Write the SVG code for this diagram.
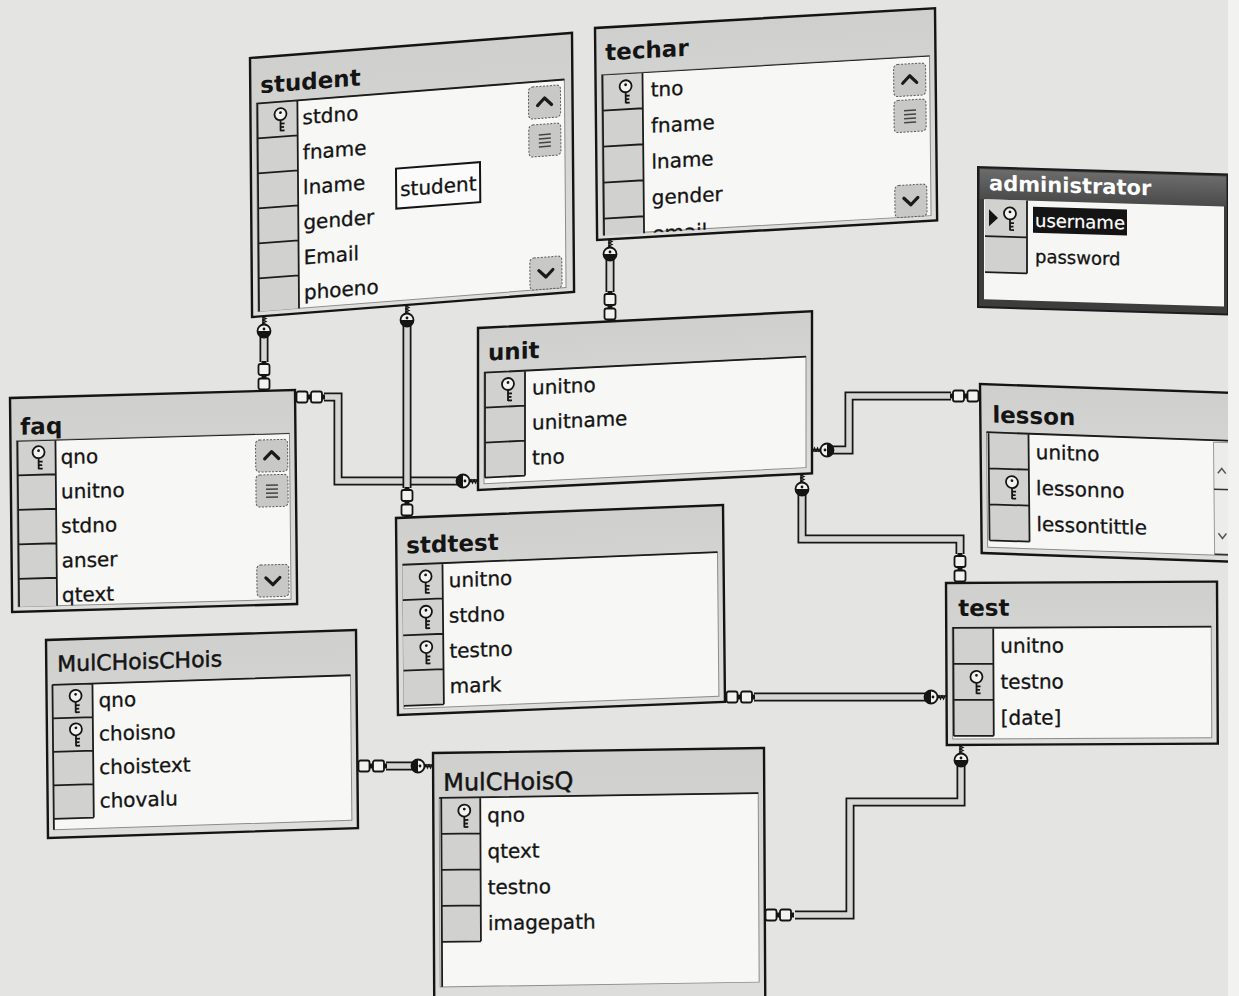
<svg xmlns="http://www.w3.org/2000/svg" width="1239" height="996" viewBox="0 0 1239 996">
<defs>
<style>
.frame{fill:url(#hdr);stroke:#141414;stroke-width:2.4}
.grid{fill:#f7f7f5;stroke:#8c8c8a;stroke-width:1}
.kc{fill:#d1d1cf}
.ksep{fill:none;stroke:#1c1c1c;stroke-width:1.8}
.title{font-family:"DejaVu Sans",Verdana,sans-serif;font-weight:bold;font-size:23px;fill:#141414}
.mtitle{font-family:"DejaVu Sans",Verdana,sans-serif;font-size:22px;fill:#141414;stroke:#141414;stroke-width:0.5}
.atitle{font-family:"DejaVu Sans",Verdana,sans-serif;font-weight:bold;font-size:21px;fill:#ffffff}
.row{font-family:"DejaVu Sans",Verdana,sans-serif;font-size:20px;fill:#141414;stroke:#141414;stroke-width:0.3}
.arow{font-family:"DejaVu Sans",Verdana,sans-serif;font-size:18px;fill:#141414;stroke:#141414;stroke-width:0.3}
.pipeo{fill:none;stroke:#161616;stroke-width:9}
.pipei{fill:none;stroke:#d6d6d4;stroke-width:5.5}
.sb{fill:#c8c8c6;stroke:#5a5a5a;stroke-width:1;stroke-dasharray:2 1.5}
.arr{fill:none;stroke:#1a1a1a;stroke-width:3.2;stroke-linecap:round;stroke-linejoin:round}
.link{fill:#f2f2f0;stroke:#141414;stroke-width:1.8}
.ink{fill:#141414}
</style>
<linearGradient id="hdr" x1="0" y1="0" x2="0" y2="1"><stop offset="0" stop-color="#cfcfcd"/><stop offset="1" stop-color="#dededc"/></linearGradient>
<linearGradient id="dk" x1="0" y1="0" x2="0" y2="1"><stop offset="0" stop-color="#6c6c6c"/><stop offset="1" stop-color="#4a4a4a"/></linearGradient>
<g id="pk">
<circle cx="0" cy="-5" r="6" fill="#f2f2f2" stroke="#141414" stroke-width="1.8"/>
<circle cx="0" cy="-6.5" r="1.4" fill="#141414"/>
<path d="M0,1V12M0,4.5h4M0,8h3.5M0,11.5h4" fill="none" stroke="#141414" stroke-width="1.8"/>
</g>
<g id="ck">
<path d="M0,-1H-9" fill="none" stroke="#141414" stroke-width="1.6"/>
<path d="M-1,-1l-1.5,3l-1.5,-3l-1.5,3l-1.5,-3l-1.5,3" fill="none" stroke="#141414" stroke-width="1.3"/>
<circle cx="-15" cy="0" r="6.5" fill="#f2f2f0" stroke="#141414" stroke-width="1.8"/>
<path d="M-15,-6.5A6.5,6.5 0 0 0 -15,6.5Z" class="ink"/>
<circle cx="-13" cy="0" r="1.4" class="ink"/>
</g>
<g id="cc">
<rect x="-2" y="-2.5" width="2" height="5" class="ink"/>
<rect class="link" x="-12.5" y="-5.5" width="11" height="11" rx="2"/>
<rect x="-16" y="-2.5" width="4" height="5" class="ink"/>
<rect class="link" x="-27" y="-5.5" width="11" height="11" rx="2"/>
<rect x="-30" y="-2.5" width="3.5" height="5" class="ink"/>
</g>
<g id="sbUp"><rect class="sb" width="32" height="32" rx="4"/><path class="arr" d="M9,19L16,12L23,19"/></g>
<g id="sbTh"><rect class="sb" width="32" height="32" rx="4"/><path d="M10,10.5H22M10,14.5H22M10,18.5H22M10,22.5H22" stroke="#444" stroke-width="1.5"/></g>
<g id="sbDn"><rect class="sb" width="32" height="32" rx="4"/><path class="arr" d="M9,13L16,20L23,13"/></g>
<clipPath id="clipT"><rect x="0" y="47" width="340" height="161"/></clipPath>
<clipPath id="clipF"><rect x="0" y="43" width="285" height="166"/></clipPath>
<path id="p1" d="M264,336V362"/>
<path id="p2" d="M407,325V488"/>
<path id="p3" d="M324,397H338V481H458"/>
<path id="p4" d="M610,259V292"/>
<path id="p5" d="M832,450H849V396H951"/>
<path id="p6" d="M802,494V539H960V554"/>
<path id="p7" d="M754,697H926"/>
<path id="p8" d="M386,766H413"/>
<path id="p9" d="M961,765V802H850V915H795"/>
</defs>

<rect width="1239" height="996" fill="#e4e4e2"/>

<g id="student" transform="matrix(1,-0.078,0.008,1,250,58)">
<rect class="frame" width="322" height="259"/>
<text class="title" x="10" y="36">student</text>
<rect class="grid" x="6" y="46" width="308" height="208"/>
<rect class="kc" x="7" y="46" width="40" height="208"/>
<path class="ksep" d="M6,46H314M7,81H47M7,116H47M7,151H47M7,186H47M7,221H47M47,46V254M7,46V254"/>
<use href="#pk" x="30" y="63.5"/>
<text class="row" x="52" y="70.5">stdno</text>
<text class="row" x="52" y="105.5">fname</text>
<text class="row" x="52" y="140.5">lname</text>
<text class="row" x="52" y="175.5">gender</text>
<text class="row" x="52" y="210.5">Email</text>
<text class="row" x="52" y="245.5">phoeno</text>
<use href="#sbUp" x="278" y="51"/>
<use href="#sbTh" x="278" y="89"/>
<use href="#sbDn" x="278" y="222"/>
<rect x="145" y="122" width="84" height="40" fill="#fbfbfb" stroke="#141414" stroke-width="2"/>
<text class="row" x="149" y="150">student</text>
</g>

<g id="techar" transform="matrix(1,-0.058,0.01,1,595,28)">
<rect class="frame" width="340" height="212"/>
<text class="title" x="10" y="33">techar</text>
<rect class="grid" x="6" y="47" width="328" height="160"/>
<g clip-path="url(#clipT)">
<rect class="kc" x="7" y="47" width="40" height="165"/>
<path class="ksep" d="M6,47H334M7,83H47M7,119H47M7,155H47M7,191H47M47,47V212M7,47V212"/>
<text class="row" x="55" y="72">tno</text>
<text class="row" x="55" y="108">fname</text>
<text class="row" x="55" y="144">lname</text>
<text class="row" x="55" y="180">gender</text>
<text class="row" x="55" y="216">email</text>
</g>
<use href="#pk" x="30" y="65"/>
<use href="#sbUp" x="298" y="54"/>
<use href="#sbTh" x="298" y="90"/>
<use href="#sbDn" x="298" y="175"/>
</g>

<g id="administrator" transform="matrix(1,0.03,0,1,978,167)">
<rect width="250" height="140" fill="#3d3d3d" stroke="#1c1c1c" stroke-width="2"/>
<rect x="2" y="2" width="246" height="30" fill="url(#dk)"/>
<text class="atitle" x="11" y="23">administrator</text>
<rect x="6" y="32" width="240" height="100" fill="#f6f6f4"/>
<rect class="kc" x="7" y="32" width="42" height="73"/>
<path class="ksep" d="M7,69H49M7,105H49M49,32V105"/>
<polygon points="11,42 20,50.5 11,59" class="ink"/>
<use href="#pk" x="32" y="50.5"/>
<rect x="55" y="38" width="94" height="26" fill="#141414"/>
<text class="arow" x="57" y="58" style="fill:#ffffff;stroke:#ffffff;stroke-width:0.2">username</text>
<text class="arow" x="57" y="94">password</text>
</g>

<g id="unit" transform="matrix(1,-0.05,0,1,478,328)">
<rect class="frame" width="334" height="162"/>
<text class="title" x="10" y="33">unit</text>
<rect class="grid" x="6" y="45" width="322" height="111"/>
<rect class="kc" x="7" y="45" width="40" height="105"/>
<path class="ksep" d="M6,45H328M7,80H47M7,115H47M7,150H47M47,45V150M7,45V150"/>
<use href="#pk" x="30" y="62.5"/>
<text class="row" x="54" y="69.5">unitno</text>
<text class="row" x="54" y="104.5">unitname</text>
<text class="row" x="54" y="139.5">tno</text>
</g>

<g id="lesson" transform="matrix(1,0.035,0.01,1,980,384)">
<rect class="frame" width="252" height="169"/>
<text class="title" x="12" y="38">lesson</text>
<rect class="grid" x="6" y="48" width="246" height="115"/>
<rect class="kc" x="8" y="48" width="40" height="108"/>
<path class="ksep" d="M6,48H252M8,84H48M8,120H48M8,156H48M48,48V156M8,48V156"/>
<use href="#pk" x="31" y="102"/>
<text class="row" x="55" y="73">unitno</text>
<text class="row" x="55" y="109">lessonno</text>
<text class="row" x="55" y="145">lessontittle</text>
<rect x="233" y="50" width="19" height="112" fill="#ececea" stroke="#9a9a98" stroke-width="1"/>
<path d="M237,81L241,76L245,81M237,141L241,146L245,141" fill="none" stroke="#555" stroke-width="1.5"/>
<path d="M233,97H252M233,162H252" stroke="#333" stroke-width="1.5"/>
</g>

<g id="faq" transform="matrix(1,-0.028,0.01,1,10,398)">
<rect class="frame" width="285" height="214"/>
<text class="title" x="10" y="37">faq</text>
<rect class="grid" x="6" y="43" width="273" height="166"/>
<g clip-path="url(#clipF)">
<rect class="kc" x="7" y="43" width="38" height="170"/>
<path class="ksep" d="M6,43H279M7,77.5H45M7,112H45M7,146.5H45M7,181H45M45,43V213M7,43V213"/>
<text class="row" x="50" y="67.5">qno</text>
<text class="row" x="50" y="102">unitno</text>
<text class="row" x="50" y="136.5">stdno</text>
<text class="row" x="50" y="171">anser</text>
<text class="row" x="50" y="205.5">qtext</text>
</g>
<use href="#pk" x="28" y="60"/>
<use href="#sbUp" x="245" y="49"/>
<use href="#sbTh" x="245" y="84"/>
<use href="#sbDn" x="245" y="174"/>
</g>

<g id="stdtest" transform="matrix(1,-0.04,0.01,1,396,518)">
<rect class="frame" width="327" height="197"/>
<text class="title" x="10" y="36">stdtest</text>
<rect class="grid" x="6" y="47" width="315" height="144"/>
<rect class="kc" x="6" y="47" width="40" height="141"/>
<path class="ksep" d="M6,47H321M6,82.3H46M6,117.6H46M6,152.9H46M6,188.2H46M46,47V188.2"/>
<use href="#pk" x="29" y="64.6"/>
<use href="#pk" x="29" y="99.9"/>
<use href="#pk" x="29" y="135.2"/>
<text class="row" x="52" y="71.5">unitno</text>
<text class="row" x="52" y="106.8">stdno</text>
<text class="row" x="52" y="142.1">testno</text>
<text class="row" x="52" y="177.4">mark</text>
</g>

<g id="test" transform="matrix(1,-0.005,0.005,1,946,583)">
<rect class="frame" width="271" height="162"/>
<text class="title" x="12" y="33">test</text>
<rect class="grid" x="6" y="45" width="259" height="111"/>
<rect class="kc" x="7" y="45" width="40" height="108"/>
<path class="ksep" d="M6,45H265M7,81H47M7,117H47M7,153H47M47,45V153M7,45V153"/>
<use href="#pk" x="30" y="99"/>
<text class="row" x="54" y="70">unitno</text>
<text class="row" x="54" y="106">testno</text>
<text class="row" x="54" y="142">[date]</text>
</g>

<g id="MulCHoisCHois" transform="matrix(1,-0.032,0.01,1,46,640)">
<rect class="frame" width="310" height="198"/>
<text class="mtitle" x="11" y="32">MulCHoisCHois</text>
<rect class="grid" x="6" y="45" width="298" height="145"/>
<rect class="kc" x="6" y="45" width="40" height="134"/>
<path class="ksep" d="M6,45H304M6,78.5H46M6,112H46M6,145.5H46M6,179H46M46,45V179M6,45V190"/>
<use href="#pk" x="29" y="61.75"/>
<use href="#pk" x="29" y="95.25"/>
<text class="row" x="52" y="69">qno</text>
<text class="row" x="52" y="102.5">choisno</text>
<text class="row" x="52" y="136">choistext</text>
<text class="row" x="52" y="169.5">chovalu</text>
</g>

<g id="MulCHoisQ" transform="matrix(1,-0.015,0.005,1,433,753)">
<rect class="frame" width="331" height="262"/>
<text class="mtitle" x="10" y="38" style="font-size:24px">MulCHoisQ</text>
<rect class="grid" x="6" y="45" width="319" height="189"/>
<rect class="kc" x="8" y="45" width="39" height="144"/>
<path class="ksep" d="M6,45H325M8,81H47M8,117H47M8,153H47M8,189H47M47,45V189M8,45V234"/>
<use href="#pk" x="31" y="63"/>
<text class="row" x="54" y="70">qno</text>
<text class="row" x="54" y="106">qtext</text>
<text class="row" x="54" y="142">testno</text>
<text class="row" x="54" y="178">imagepath</text>
</g>

<g id="connectors">
<use href="#p1" class="pipeo"/><use href="#p1" class="pipei"/>
<use href="#p3" class="pipeo"/><use href="#p3" class="pipei"/>
<use href="#p2" class="pipeo"/><use href="#p2" class="pipei"/>
<use href="#p4" class="pipeo"/><use href="#p4" class="pipei"/>
<use href="#p5" class="pipeo"/><use href="#p5" class="pipei"/>
<use href="#p6" class="pipeo"/><use href="#p6" class="pipei"/>
<use href="#p7" class="pipeo"/><use href="#p7" class="pipei"/>
<use href="#p8" class="pipeo"/><use href="#p8" class="pipei"/>
<use href="#p9" class="pipeo"/><use href="#p9" class="pipei"/>
<use href="#ck" transform="translate(264,316) rotate(-90)"/>
<use href="#ck" transform="translate(407,305) rotate(-90)"/>
<use href="#ck" transform="translate(478,481)"/>
<use href="#ck" transform="translate(610,239) rotate(-90)"/>
<use href="#ck" transform="translate(812,450) rotate(180)"/>
<use href="#ck" transform="translate(802,474) rotate(-90)"/>
<use href="#ck" transform="translate(946,697)"/>
<use href="#ck" transform="translate(433,766)"/>
<use href="#ck" transform="translate(961,745) rotate(-90)"/>
<use href="#cc" transform="translate(264,391) rotate(90)"/>
<use href="#cc" transform="translate(407,517) rotate(90)"/>
<use href="#cc" transform="translate(295,397) rotate(180)"/>
<use href="#cc" transform="translate(610,321) rotate(90)"/>
<use href="#cc" transform="translate(980,396)"/>
<use href="#cc" transform="translate(960,583) rotate(90)"/>
<use href="#cc" transform="translate(725,697) rotate(180)"/>
<use href="#cc" transform="translate(357,766) rotate(180)"/>
<use href="#cc" transform="translate(764,915) rotate(180)"/>
</g>

<rect x="1228" y="0" width="11" height="996" fill="#f2f2f0"/>
</svg>
